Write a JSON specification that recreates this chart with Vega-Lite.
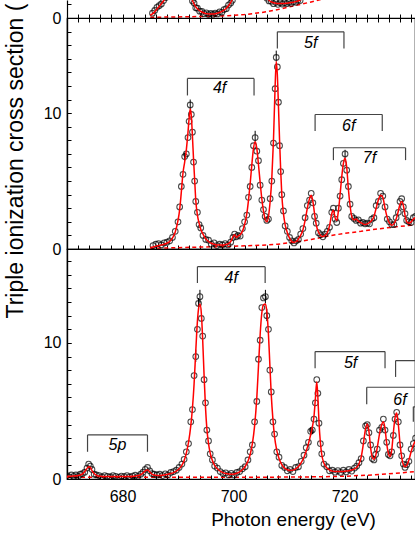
{
  "$schema": "https://vega.github.io/schema/vega-lite/v6.json",
  "autosize": {"type": "none"},
  "padding": {"left": 67, "top": 0, "right": 348, "bottom": 537},
  "spacing": 0,
  "bounds": "flush",
  "config": {
    "font": "Liberation Sans",
    "view": {"stroke": "black", "strokeWidth": 1.2},
    "axis": {"grid": false, "domainColor": "black", "domainWidth": 1.2, "tickColor": "black", "tickWidth": 1, "tickSize": -4, "labelFontSize": 16, "labelColor": "black", "labelFlush": false, "labelOverlap": false, "titleColor": "black", "titleFontWeight": "normal"}
  },
  "datasets": {
    "topBase": [
      {"e": 685, "b": 0.05}, {"e": 690, "b": 0.08}, {"e": 695, "b": 0.12}, {"e": 699, "b": 0.17}, {"e": 702, "b": 0.25}, {"e": 705, "b": 0.4}, {"e": 708, "b": 0.62}, {"e": 711, "b": 0.9}, {"e": 714, "b": 1.18}, {"e": 716, "b": 1.38}, {"e": 718, "b": 1.6}
    ],
    "top": [
      {"e": 685.0, "fit": 0.2}, {"e": 685.4, "fit": 0.3, "obs": 0.35}, {"e": 685.8, "fit": 0.45, "obs": 0.55}, {"e": 686.2, "fit": 0.65, "obs": 0.78}, {"e": 686.6, "fit": 0.85, "obs": 0.9}, {"e": 687.0, "fit": 1.05, "obs": 1.03}, {"e": 687.4, "fit": 1.25, "obs": 1.28}, {"e": 687.8, "fit": 1.55, "obs": 1.5}, {"e": 688.3, "fit": 2.2}, {"e": 689.0, "fit": 3.5}, {"e": 690.0, "fit": 5}, {"e": 691.0, "fit": 4.5}, {"e": 691.6, "fit": 3.0}, {"e": 692.0, "fit": 2.0},
      {"e": 692.3, "fit": 1.55, "obs": 1.6}, {"e": 692.6, "fit": 1.28, "obs": 1.25}, {"e": 692.9, "fit": 1.02, "obs": 1.1}, {"e": 693.2, "fit": 0.82, "obs": 0.75}, {"e": 693.5, "fit": 0.68, "obs": 0.72}, {"e": 693.9, "fit": 0.54, "obs": 0.5}, {"e": 694.3, "fit": 0.44, "obs": 0.48}, {"e": 694.7, "fit": 0.37, "obs": 0.32}, {"e": 695.1, "fit": 0.32, "obs": 0.38}, {"e": 695.5, "fit": 0.3, "obs": 0.25}, {"e": 695.9, "fit": 0.29, "obs": 0.33}, {"e": 696.3, "fit": 0.3, "obs": 0.26}, {"e": 696.7, "fit": 0.32, "obs": 0.36}, {"e": 697.1, "fit": 0.35, "obs": 0.3}, {"e": 697.5, "fit": 0.4, "obs": 0.45}, {"e": 697.9, "fit": 0.48, "obs": 0.42}, {"e": 698.3, "fit": 0.58, "obs": 0.62}, {"e": 698.7, "fit": 0.72, "obs": 0.68}, {"e": 699.1, "fit": 0.9, "obs": 0.95}, {"e": 699.5, "fit": 1.15, "obs": 1.1}, {"e": 699.8, "fit": 1.38, "obs": 1.3},
      {"e": 700.3, "fit": 1.9}, {"e": 701, "fit": 3}, {"e": 703, "fit": 5}, {"e": 705, "fit": 3}, {"e": 705.7, "fit": 1.8},
      {"e": 706.0, "fit": 1.5, "obs": 1.45}, {"e": 706.4, "fit": 1.3, "obs": 1.25}, {"e": 706.8, "fit": 1.18, "obs": 1.22}, {"e": 707.2, "fit": 1.12, "obs": 1.05}, {"e": 707.6, "fit": 1.09, "obs": 1.15}, {"e": 708.0, "fit": 1.07, "obs": 1.0}, {"e": 708.4, "fit": 1.06, "obs": 1.12}, {"e": 708.8, "fit": 1.06, "obs": 1.02}, {"e": 709.2, "fit": 1.07, "obs": 1.12}, {"e": 709.6, "fit": 1.09, "obs": 1.05}, {"e": 710.0, "fit": 1.11, "obs": 1.16}, {"e": 710.4, "fit": 1.13, "obs": 1.08}, {"e": 710.8, "fit": 1.16, "obs": 1.2}, {"e": 711.2, "fit": 1.2, "obs": 1.15}, {"e": 711.6, "fit": 1.25, "obs": 1.3}, {"e": 712.0, "fit": 1.32, "obs": 1.28}, {"e": 712.5, "fit": 1.45}, {"e": 713.0, "fit": 1.7}
    ],
    "midBase": [
      {"e": 685, "b": 0.05}, {"e": 690, "b": 0.1}, {"e": 695, "b": 0.15}, {"e": 700, "b": 0.2}, {"e": 705, "b": 0.28}, {"e": 708, "b": 0.35}, {"e": 711, "b": 0.5}, {"e": 714, "b": 0.7}, {"e": 717, "b": 0.95}, {"e": 720, "b": 1.15}, {"e": 723, "b": 1.3}, {"e": 726, "b": 1.48}, {"e": 729, "b": 1.62}, {"e": 732, "b": 1.75}, {"e": 733.2, "b": 1.8}
    ],
    "mid": [
      {"e": 685.0, "fit": 0.1}, {"e": 685.5, "fit": 0.15, "obs": 0.25}, {"e": 686.0, "fit": 0.2, "obs": 0.35}, {"e": 686.5, "fit": 0.25, "obs": 0.4}, {"e": 687.0, "fit": 0.3, "obs": 0.3}, {"e": 687.5, "fit": 0.35, "obs": 0.45}, {"e": 688.0, "fit": 0.42, "obs": 0.5}, {"e": 688.5, "fit": 0.55, "obs": 0.6}, {"e": 689.0, "fit": 0.8, "obs": 0.85}, {"e": 689.5, "fit": 1.25, "obs": 1.3}, {"e": 690.0, "fit": 2.1, "obs": 2.0}, {"e": 690.3, "fit": 2.9, "obs": 3.1}, {"e": 690.6, "fit": 4.2, "obs": 4.6}, {"e": 690.9, "fit": 5.6, "obs": 5.5}, {"e": 691.2, "fit": 6.4, "obs": 6.8}, {"e": 691.5, "fit": 7.3, "obs": 7.0}, {"e": 691.8, "fit": 8.6, "obs": 8.2}, {"e": 692.0, "fit": 9.6, "obs": 9.4}, {"e": 692.2, "fit": 10.3, "obs": 10.6}, {"e": 692.4, "fit": 9.8, "obs": 9.9}, {"e": 692.6, "fit": 8.3, "obs": 8.6}, {"e": 692.8, "fit": 6.6, "obs": 6.4}, {"e": 693.0, "fit": 5.1, "obs": 5.0}, {"e": 693.2, "fit": 3.6, "obs": 3.5}, {"e": 693.5, "fit": 2.5, "obs": 2.7}, {"e": 693.8, "fit": 1.9, "obs": 1.8}, {"e": 694.1, "fit": 1.45, "obs": 1.55}, {"e": 694.5, "fit": 1.1, "obs": 1.0}, {"e": 695.0, "fit": 0.75, "obs": 0.7}, {"e": 695.5, "fit": 0.55, "obs": 0.65}, {"e": 696.0, "fit": 0.42, "obs": 0.35}, {"e": 696.5, "fit": 0.35, "obs": 0.45}, {"e": 697.0, "fit": 0.3, "obs": 0.25}, {"e": 697.5, "fit": 0.3, "obs": 0.35}, {"e": 698.0, "fit": 0.3, "obs": 0.3}, {"e": 698.5, "fit": 0.32, "obs": 0.4}, {"e": 699.0, "fit": 0.38, "obs": 0.3}, {"e": 699.5, "fit": 0.55, "obs": 0.5}, {"e": 699.9, "fit": 0.9, "obs": 0.85}, {"e": 700.2, "fit": 1.05, "obs": 1.1}, {"e": 700.5, "fit": 0.85, "obs": 0.9}, {"e": 700.8, "fit": 0.95, "obs": 1.0}, {"e": 701.2, "fit": 1.05, "obs": 0.95}, {"e": 701.6, "fit": 1.3, "obs": 1.5}, {"e": 702.0, "fit": 1.8, "obs": 2.0}, {"e": 702.4, "fit": 2.6, "obs": 2.5}, {"e": 702.7, "fit": 3.6, "obs": 3.8}, {"e": 703.0, "fit": 4.8, "obs": 4.6}, {"e": 703.3, "fit": 6.2, "obs": 6.0}, {"e": 703.6, "fit": 7.4, "obs": 7.6}, {"e": 703.9, "fit": 7.9, "obs": 8.2}, {"e": 704.2, "fit": 7.4, "obs": 7.2}, {"e": 704.5, "fit": 6.2, "obs": 6.5}, {"e": 704.8, "fit": 4.9, "obs": 4.7}, {"e": 705.1, "fit": 3.7, "obs": 3.6}, {"e": 705.4, "fit": 2.8, "obs": 2.9}, {"e": 705.7, "fit": 2.2, "obs": 2.4}, {"e": 706.0, "fit": 2.0, "obs": 2.1}, {"e": 706.3, "fit": 2.4, "obs": 2.2}, {"e": 706.6, "fit": 3.5, "obs": 3.7}, {"e": 706.9, "fit": 5.2, "obs": 5.0}, {"e": 707.2, "fit": 8.0, "obs": 7.8}, {"e": 707.5, "fit": 12.0, "obs": 11.8}, {"e": 707.7, "fit": 13.8, "obs": 14.1}, {"e": 707.9, "fit": 12.8, "obs": 13.4}, {"e": 708.1, "fit": 10.5, "obs": 10.8}, {"e": 708.3, "fit": 8.0, "obs": 7.6}, {"e": 708.5, "fit": 5.8, "obs": 5.7}, {"e": 708.7, "fit": 4.0, "obs": 4.0}, {"e": 709.0, "fit": 2.6, "obs": 2.8}, {"e": 709.3, "fit": 1.8, "obs": 1.7}, {"e": 709.7, "fit": 1.2, "obs": 1.3}, {"e": 710.1, "fit": 0.8, "obs": 0.85}, {"e": 710.5, "fit": 0.55, "obs": 0.6}, {"e": 710.9, "fit": 0.48, "obs": 0.45}, {"e": 711.3, "fit": 0.55, "obs": 0.6}, {"e": 711.7, "fit": 0.75, "obs": 0.7}, {"e": 712.1, "fit": 1.0, "obs": 1.1}, {"e": 712.5, "fit": 1.4, "obs": 1.5}, {"e": 712.9, "fit": 2.1, "obs": 2.3}, {"e": 713.3, "fit": 3.0, "obs": 3.2}, {"e": 713.7, "fit": 3.7, "obs": 3.6}, {"e": 714.0, "fit": 3.95, "obs": 4.1}, {"e": 714.3, "fit": 3.5, "obs": 3.4}, {"e": 714.6, "fit": 2.6, "obs": 2.4}, {"e": 714.9, "fit": 1.8, "obs": 1.9}, {"e": 715.3, "fit": 1.25, "obs": 1.2}, {"e": 715.7, "fit": 1.0, "obs": 1.05}, {"e": 716.1, "fit": 0.92, "obs": 0.9}, {"e": 716.5, "fit": 1.0, "obs": 1.1}, {"e": 716.9, "fit": 1.2, "obs": 1.3}, {"e": 717.3, "fit": 1.7, "obs": 1.6}, {"e": 717.7, "fit": 2.6, "obs": 2.7}, {"e": 718.0, "fit": 2.85, "obs": 3.0}, {"e": 718.3, "fit": 2.3, "obs": 2.2}, {"e": 718.6, "fit": 2.1, "obs": 1.95}, {"e": 718.9, "fit": 2.8, "obs": 3.0}, {"e": 719.2, "fit": 4.0, "obs": 3.9}, {"e": 719.5, "fit": 5.3, "obs": 5.1}, {"e": 719.8, "fit": 6.3, "obs": 6.3}, {"e": 720.1, "fit": 6.7, "obs": 7.0}, {"e": 720.4, "fit": 6.0, "obs": 5.8}, {"e": 720.7, "fit": 4.4, "obs": 4.6}, {"e": 721.0, "fit": 3.2, "obs": 3.3}, {"e": 721.3, "fit": 2.4, "obs": 2.4}, {"e": 721.7, "fit": 2.15, "obs": 2.25}, {"e": 722.1, "fit": 2.2, "obs": 2.1}, {"e": 722.5, "fit": 2.05, "obs": 2.15}, {"e": 722.9, "fit": 1.95, "obs": 1.9}, {"e": 723.3, "fit": 1.85, "obs": 1.95}, {"e": 723.7, "fit": 1.8, "obs": 1.85}, {"e": 724.1, "fit": 1.85, "obs": 1.9}, {"e": 724.5, "fit": 1.95, "obs": 1.85}, {"e": 724.9, "fit": 2.1, "obs": 2.2}, {"e": 725.3, "fit": 2.4, "obs": 2.3}, {"e": 725.7, "fit": 3.0, "obs": 3.2}, {"e": 726.1, "fit": 3.6, "obs": 3.5}, {"e": 726.5, "fit": 3.95, "obs": 4.1}, {"e": 726.9, "fit": 3.8, "obs": 3.9}, {"e": 727.3, "fit": 3.0, "obs": 3.1}, {"e": 727.7, "fit": 2.3, "obs": 2.2}, {"e": 728.1, "fit": 1.9, "obs": 2.0}, {"e": 728.5, "fit": 1.75, "obs": 1.8}, {"e": 728.9, "fit": 1.85, "obs": 1.8}, {"e": 729.3, "fit": 2.2, "obs": 2.3}, {"e": 729.7, "fit": 2.8, "obs": 2.7}, {"e": 730.0, "fit": 3.3, "obs": 3.5}, {"e": 730.3, "fit": 3.5, "obs": 3.7}, {"e": 730.6, "fit": 3.2, "obs": 3.1}, {"e": 730.9, "fit": 2.5, "obs": 2.6}, {"e": 731.2, "fit": 2.0, "obs": 2.1}, {"e": 731.6, "fit": 1.9, "obs": 2.0}, {"e": 732.0, "fit": 2.0, "obs": 1.95}, {"e": 732.4, "fit": 2.2, "obs": 2.3}, {"e": 732.8, "fit": 2.3, "obs": 2.4}, {"e": 733.2, "fit": 2.3}
    ],
    "botBase": [
      {"e": 670, "b": 0.12}, {"e": 690, "b": 0.12}, {"e": 710, "b": 0.14}, {"e": 715, "b": 0.16}, {"e": 720, "b": 0.2}, {"e": 725, "b": 0.3}, {"e": 730, "b": 0.45}, {"e": 733.2, "b": 0.55}
    ],
    "bot": [
      {"e": 670.0, "fit": 0.2, "obs": 0.25}, {"e": 670.4, "fit": 0.2, "obs": 0.15}, {"e": 670.8, "fit": 0.21, "obs": 0.3}, {"e": 671.2, "fit": 0.22, "obs": 0.2}, {"e": 671.6, "fit": 0.23, "obs": 0.3}, {"e": 672.0, "fit": 0.25, "obs": 0.2}, {"e": 672.4, "fit": 0.29, "obs": 0.35}, {"e": 672.8, "fit": 0.38, "obs": 0.4}, {"e": 673.2, "fit": 0.55, "obs": 0.5}, {"e": 673.6, "fit": 0.78, "obs": 0.8}, {"e": 673.9, "fit": 0.9, "obs": 1.1}, {"e": 674.2, "fit": 0.85, "obs": 0.95}, {"e": 674.5, "fit": 0.62, "obs": 0.7}, {"e": 674.9, "fit": 0.4, "obs": 0.35}, {"e": 675.3, "fit": 0.27, "obs": 0.3}, {"e": 675.8, "fit": 0.21, "obs": 0.25}, {"e": 676.3, "fit": 0.19, "obs": 0.15}, {"e": 676.8, "fit": 0.18, "obs": 0.25}, {"e": 677.3, "fit": 0.18, "obs": 0.2}, {"e": 677.8, "fit": 0.18, "obs": 0.15}, {"e": 678.3, "fit": 0.18, "obs": 0.25}, {"e": 678.8, "fit": 0.18, "obs": 0.2}, {"e": 679.3, "fit": 0.18, "obs": 0.12}, {"e": 679.8, "fit": 0.18, "obs": 0.22}, {"e": 680.3, "fit": 0.18, "obs": 0.18}, {"e": 680.8, "fit": 0.18, "obs": 0.25}, {"e": 681.3, "fit": 0.19, "obs": 0.15}, {"e": 681.8, "fit": 0.2, "obs": 0.22}, {"e": 682.3, "fit": 0.21, "obs": 0.28}, {"e": 682.8, "fit": 0.25, "obs": 0.2}, {"e": 683.3, "fit": 0.32, "obs": 0.35}, {"e": 683.7, "fit": 0.45, "obs": 0.5}, {"e": 684.1, "fit": 0.6, "obs": 0.7}, {"e": 684.5, "fit": 0.66, "obs": 0.85}, {"e": 684.9, "fit": 0.52, "obs": 0.6}, {"e": 685.3, "fit": 0.36, "obs": 0.4}, {"e": 685.7, "fit": 0.29, "obs": 0.35}, {"e": 686.2, "fit": 0.26, "obs": 0.3}, {"e": 686.7, "fit": 0.26, "obs": 0.35}, {"e": 687.2, "fit": 0.28, "obs": 0.25}, {"e": 687.7, "fit": 0.31, "obs": 0.38}, {"e": 688.2, "fit": 0.35, "obs": 0.3}, {"e": 688.7, "fit": 0.4, "obs": 0.48}, {"e": 689.2, "fit": 0.47, "obs": 0.55}, {"e": 689.7, "fit": 0.58, "obs": 0.65}, {"e": 690.2, "fit": 0.75, "obs": 0.85}, {"e": 690.7, "fit": 1.0, "obs": 1.1}, {"e": 691.1, "fit": 1.35, "obs": 1.45}, {"e": 691.5, "fit": 1.9, "obs": 2.0}, {"e": 691.9, "fit": 2.7, "obs": 2.6}, {"e": 692.3, "fit": 3.9, "obs": 4.2}, {"e": 692.6, "fit": 5.2, "obs": 5.1}, {"e": 692.9, "fit": 7.0, "obs": 7.6}, {"e": 693.2, "fit": 9.4, "obs": 9.0}, {"e": 693.5, "fit": 11.6, "obs": 11.0}, {"e": 693.7, "fit": 12.5, "obs": 12.9}, {"e": 693.95, "fit": 12.85, "obs": 13.4}, {"e": 694.2, "fit": 12.2, "obs": 11.8}, {"e": 694.45, "fit": 10.2, "obs": 10.5}, {"e": 694.7, "fit": 7.6, "obs": 7.3}, {"e": 694.95, "fit": 5.3, "obs": 5.6}, {"e": 695.2, "fit": 3.7, "obs": 3.6}, {"e": 695.5, "fit": 2.6, "obs": 2.8}, {"e": 695.8, "fit": 1.9, "obs": 1.85}, {"e": 696.2, "fit": 1.35, "obs": 1.4}, {"e": 696.6, "fit": 1.0, "obs": 0.95}, {"e": 697.1, "fit": 0.75, "obs": 0.8}, {"e": 697.6, "fit": 0.58, "obs": 0.55}, {"e": 698.1, "fit": 0.47, "obs": 0.4}, {"e": 698.6, "fit": 0.4, "obs": 0.45}, {"e": 699.1, "fit": 0.36, "obs": 0.3}, {"e": 699.6, "fit": 0.35, "obs": 0.42}, {"e": 700.1, "fit": 0.37, "obs": 0.3}, {"e": 700.6, "fit": 0.42, "obs": 0.48}, {"e": 701.1, "fit": 0.52, "obs": 0.55}, {"e": 701.6, "fit": 0.68, "obs": 0.75}, {"e": 702.1, "fit": 0.92, "obs": 0.9}, {"e": 702.6, "fit": 1.3, "obs": 1.4}, {"e": 703.0, "fit": 1.8, "obs": 2.0}, {"e": 703.4, "fit": 2.6, "obs": 2.5}, {"e": 703.8, "fit": 3.9, "obs": 4.2}, {"e": 704.2, "fit": 6.0, "obs": 5.7}, {"e": 704.5, "fit": 8.3, "obs": 8.8}, {"e": 704.8, "fit": 10.6, "obs": 10.2}, {"e": 705.1, "fit": 12.2, "obs": 12.6}, {"e": 705.4, "fit": 12.8, "obs": 13.3}, {"e": 705.75, "fit": 12.85, "obs": 13.4}, {"e": 706.0, "fit": 12.3, "obs": 12.0}, {"e": 706.3, "fit": 10.6, "obs": 11.0}, {"e": 706.55, "fit": 8.4, "obs": 8.0}, {"e": 706.8, "fit": 6.2, "obs": 6.4}, {"e": 707.1, "fit": 4.4, "obs": 4.2}, {"e": 707.4, "fit": 3.1, "obs": 3.3}, {"e": 707.8, "fit": 2.1, "obs": 2.0}, {"e": 708.2, "fit": 1.5, "obs": 1.6}, {"e": 708.7, "fit": 1.05, "obs": 1.0}, {"e": 709.2, "fit": 0.8, "obs": 0.85}, {"e": 709.7, "fit": 0.68, "obs": 0.6}, {"e": 710.2, "fit": 0.62, "obs": 0.7}, {"e": 710.7, "fit": 0.65, "obs": 0.55}, {"e": 711.2, "fit": 0.75, "obs": 0.85}, {"e": 711.7, "fit": 0.92, "obs": 0.9}, {"e": 712.2, "fit": 1.2, "obs": 1.3}, {"e": 712.7, "fit": 1.6, "obs": 1.75}, {"e": 713.1, "fit": 2.05, "obs": 2.3}, {"e": 713.5, "fit": 2.6, "obs": 2.7}, {"e": 713.9, "fit": 3.25, "obs": 3.5}, {"e": 714.2, "fit": 3.8, "obs": 3.6}, {"e": 714.5, "fit": 4.6, "obs": 4.4}, {"e": 714.75, "fit": 5.9, "obs": 5.6}, {"e": 715.0, "fit": 7.15, "obs": 7.3}, {"e": 715.2, "fit": 6.0, "obs": 6.3}, {"e": 715.4, "fit": 4.2, "obs": 4.1}, {"e": 715.65, "fit": 2.7, "obs": 2.6}, {"e": 715.9, "fit": 1.8, "obs": 1.85}, {"e": 716.3, "fit": 1.15, "obs": 1.1}, {"e": 716.8, "fit": 0.82, "obs": 0.9}, {"e": 717.3, "fit": 0.66, "obs": 0.6}, {"e": 717.8, "fit": 0.58, "obs": 0.65}, {"e": 718.3, "fit": 0.55, "obs": 0.5}, {"e": 718.8, "fit": 0.55, "obs": 0.62}, {"e": 719.3, "fit": 0.55, "obs": 0.48}, {"e": 719.8, "fit": 0.56, "obs": 0.65}, {"e": 720.3, "fit": 0.58, "obs": 0.52}, {"e": 720.8, "fit": 0.61, "obs": 0.7}, {"e": 721.3, "fit": 0.66, "obs": 0.58}, {"e": 721.8, "fit": 0.74, "obs": 0.8}, {"e": 722.2, "fit": 0.86, "obs": 0.95}, {"e": 722.6, "fit": 1.1, "obs": 1.2}, {"e": 723.0, "fit": 1.6, "obs": 1.5}, {"e": 723.4, "fit": 2.6, "obs": 2.8}, {"e": 723.8, "fit": 3.7, "obs": 3.9}, {"e": 724.1, "fit": 4.05, "obs": 4.0}, {"e": 724.4, "fit": 3.5, "obs": 3.4}, {"e": 724.7, "fit": 2.3, "obs": 2.5}, {"e": 725.0, "fit": 1.6, "obs": 1.5}, {"e": 725.3, "fit": 1.45, "obs": 1.4}, {"e": 725.6, "fit": 1.7, "obs": 1.8}, {"e": 725.9, "fit": 2.3, "obs": 2.2}, {"e": 726.3, "fit": 3.3, "obs": 3.6}, {"e": 726.7, "fit": 4.0, "obs": 3.8}, {"e": 727.0, "fit": 4.2, "obs": 4.4}, {"e": 727.3, "fit": 3.7, "obs": 3.6}, {"e": 727.6, "fit": 2.6, "obs": 2.7}, {"e": 727.9, "fit": 1.9, "obs": 1.8}, {"e": 728.2, "fit": 1.65, "obs": 1.7}, {"e": 728.5, "fit": 2.1, "obs": 2.0}, {"e": 728.8, "fit": 3.4, "obs": 3.2}, {"e": 729.1, "fit": 4.5, "obs": 4.4}, {"e": 729.4, "fit": 4.85, "obs": 4.9}, {"e": 729.7, "fit": 4.0, "obs": 4.2}, {"e": 730.0, "fit": 2.6, "obs": 2.5}, {"e": 730.3, "fit": 1.6, "obs": 1.7}, {"e": 730.6, "fit": 1.05, "obs": 1.1}, {"e": 730.9, "fit": 0.9, "obs": 0.85}, {"e": 731.2, "fit": 1.0, "obs": 1.05}, {"e": 731.6, "fit": 1.4, "obs": 1.3}, {"e": 732.0, "fit": 2.0, "obs": 2.2}, {"e": 732.4, "fit": 2.5, "obs": 2.6}, {"e": 732.8, "fit": 2.8, "obs": 3.0}, {"e": 733.2, "fit": 2.9, "obs": 2.8}
    ],
    "err": [
      {"p": "mid", "e": 692.2, "lo": 10.3, "hi": 11.0}, {"p": "mid", "e": 703.9, "lo": 7.9, "hi": 8.7}, {"p": "mid", "e": 707.7, "lo": 13.8, "hi": 14.6}, {"p": "mid", "e": 691.2, "lo": 6.5, "hi": 7.1}, {"p": "mid", "e": 720.1, "lo": 6.7, "hi": 7.3},
      {"p": "bot", "e": 693.95, "lo": 12.9, "hi": 13.9}, {"p": "bot", "e": 693.2, "lo": 8.6, "hi": 9.5}, {"p": "bot", "e": 693.7, "lo": 12.4, "hi": 13.3}, {"p": "bot", "e": 705.75, "lo": 12.9, "hi": 13.9}, {"p": "bot", "e": 706.0, "lo": 11.6, "hi": 12.5}, {"p": "bot", "e": 714.2, "lo": 3.3, "hi": 3.9}, {"p": "bot", "e": 713.9, "lo": 3.2, "hi": 3.8}
    ],
    "brk": [
      {"p": "mid", "x1": 691.7, "x2": 703.7, "yt": 12.55, "yb": 11.3, "xm": 697.5, "ty": 11.45, "lab": "4f"},
      {"p": "mid", "x1": 707.9, "x2": 719.9, "yt": 15.98, "yb": 14.76, "xm": 713.9, "ty": 14.8, "lab": "5f"},
      {"p": "mid", "x1": 714.7, "x2": 726.8, "yt": 9.9, "yb": 8.68, "xm": 720.75, "ty": 8.65, "lab": "6f"},
      {"p": "mid", "x1": 718.0, "x2": 731.0, "yt": 7.45, "yb": 6.54, "xm": 724.5, "ty": 6.35, "lab": "7f"},
      {"p": "bot", "x1": 673.7, "x2": 684.5, "yt": 3.24, "yb": 2.0, "xm": 679.1, "ty": 2.15, "lab": "5p"},
      {"p": "bot", "x1": 693.5, "x2": 705.7, "yt": 15.6, "yb": 14.4, "xm": 699.6, "ty": 14.4, "lab": "4f"},
      {"p": "bot", "x1": 714.7, "x2": 727.3, "yt": 9.36, "yb": 8.14, "xm": 721.1, "ty": 8.15, "lab": "5f"},
      {"p": "bot", "x1": 724.0, "x2": 736.0, "yt": 6.74, "yb": 5.5, "xm": 730.0, "ty": 5.45, "lab": "6f"},
      {"p": "bot", "x1": 729.2, "x2": 741.2, "yt": 8.7, "yb": 7.5, "xm": 735.2, "ty": 7.5, "lab": ""},
      {"p": "bot", "x1": 732.4, "x2": 744.4, "yt": 5.3, "yb": 4.2, "xm": 738.4, "ty": 4.2, "lab": ""}
    ]
  },
  "vconcat": [
    {
      "width": 348, "height": 18,
      "view": {"stroke": null},
      "encoding": {
        "x": {"field": "e", "type": "quantitative", "scale": {"domain": [670, 732.7], "nice": false, "zero": false}, "axis": {"orient": "bottom", "values": [670,672,674,676,678,680,682,684,686,688,690,692,694,696,698,700,702,704,706,708,710,712,714,716,718,720,722,724,726,728,730,732], "labels": false, "title": null}}
      },
      "layer": [
        {"data": {"name": "topBase"}, "mark": {"type": "line", "color": "#ff0000", "strokeWidth": 1.5, "strokeDash": [4, 3], "clip": true},
         "encoding": {
           "y": {"field": "b", "type": "quantitative", "scale": {"domain": [0, 1.32], "nice": false, "zero": false}, "axis": {"values": [0, 1], "labelExpr": "datum.value === 0 ? '0' : ''", "labelOverlap": false, "labelPadding": 10, "title": null}}}},
        {"data": {"name": "top"}, "mark": {"type": "point", "shape": "circle", "filled": false, "color": "black", "size": 32, "strokeWidth": 1.1, "clip": true},
         "encoding": {
           "y": {"field": "obs", "type": "quantitative", "scale": {"domain": [0, 1.32], "nice": false, "zero": false}, "title": null}}},
        {"data": {"name": "top"}, "mark": {"type": "line", "color": "#ff0000", "strokeWidth": 1.5, "interpolate": "monotone", "clip": true},
         "encoding": {
           "y": {"field": "fit", "type": "quantitative", "scale": {"domain": [0, 1.32], "nice": false, "zero": false}, "title": null}}}
      ]
    },
    {
      "width": 348, "height": 231,
      "resolve": {"axis": {"x": "independent", "y": "independent"}},
      "layer": [
        {
          "encoding": {
            "x": {"field": "e", "type": "quantitative", "scale": {"domain": [670, 732.7], "nice": false, "zero": false}, "axis": {"orient": "bottom", "values": [670,672,674,676,678,680,682,684,686,688,690,692,694,696,698,700,702,704,706,708,710,712,714,716,718,720,722,724,726,728,730,732], "labels": false, "title": null}}
          },
          "layer": [
            {"data": {"name": "midBase"}, "mark": {"type": "line", "color": "#ff0000", "strokeWidth": 1.5, "strokeDash": [4, 3], "clip": true},
             "encoding": {
               "y": {"field": "b", "type": "quantitative", "scale": {"domain": [0, 17], "nice": false, "zero": false}, "axis": {"orient": "left", "values": [0, 10], "labelOverlap": false, "labelPadding": 10, "title": "Triple ionization cross section (", "titleFontSize": 23, "titleX": -45, "titleY": 300, "titleAngle": 270, "titleAlign": "left", "titleBaseline": "alphabetic"}}}},
            {"data": {"name": "mid"}, "mark": {"type": "point", "shape": "circle", "filled": false, "color": "black", "size": 32, "strokeWidth": 1.1, "clip": true},
             "encoding": {
               "y": {"field": "obs", "type": "quantitative", "scale": {"domain": [0, 17], "nice": false, "zero": false}}}},
            {"data": {"name": "err"}, "transform": [{"filter": "datum.p === 'mid'"}], "mark": {"type": "rule", "color": "black", "strokeWidth": 1, "clip": true},
             "encoding": {
               "y": {"field": "lo", "type": "quantitative", "scale": {"domain": [0, 17], "nice": false, "zero": false}},
               "y2": {"field": "hi"}}},
            {"data": {"name": "mid"}, "mark": {"type": "line", "color": "#ff0000", "strokeWidth": 1.5, "interpolate": "monotone", "clip": true},
             "encoding": {
               "y": {"field": "fit", "type": "quantitative", "scale": {"domain": [0, 17], "nice": false, "zero": false}}}},
            {"data": {"name": "brk"}, "transform": [{"filter": "datum.p === 'mid'"}], "mark": {"type": "rule", "color": "#444444", "strokeWidth": 1.2, "clip": true},
             "encoding": {
               "x": {"field": "x1", "type": "quantitative", "scale": {"domain": [670, 732.7], "nice": false, "zero": false}},
               "x2": {"field": "x2"},
               "y": {"field": "yt", "type": "quantitative", "scale": {"domain": [0, 17], "nice": false, "zero": false}}}},
            {"data": {"name": "brk"}, "transform": [{"filter": "datum.p === 'mid'"}], "mark": {"type": "rule", "color": "#444444", "strokeWidth": 1.2, "clip": true},
             "encoding": {
               "x": {"field": "x1", "type": "quantitative", "scale": {"domain": [670, 732.7], "nice": false, "zero": false}},
               "y": {"field": "yt", "type": "quantitative", "scale": {"domain": [0, 17], "nice": false, "zero": false}},
               "y2": {"field": "yb"}}},
            {"data": {"name": "brk"}, "transform": [{"filter": "datum.p === 'mid'"}], "mark": {"type": "rule", "color": "#444444", "strokeWidth": 1.2, "clip": true},
             "encoding": {
               "x": {"field": "x2", "type": "quantitative", "scale": {"domain": [670, 732.7], "nice": false, "zero": false}},
               "y": {"field": "yt", "type": "quantitative", "scale": {"domain": [0, 17], "nice": false, "zero": false}},
               "y2": {"field": "yb"}}},
            {"data": {"name": "brk"}, "transform": [{"filter": "datum.p === 'mid'"}], "mark": {"type": "text", "fontStyle": "italic", "fontSize": 16, "color": "black", "align": "center", "baseline": "alphabetic", "clip": true},
             "encoding": {
               "x": {"field": "xm", "type": "quantitative", "scale": {"domain": [670, 732.7], "nice": false, "zero": false}},
               "y": {"field": "ty", "type": "quantitative", "scale": {"domain": [0, 17], "nice": false, "zero": false}},
               "text": {"field": "lab"}}}
          ]
        },
        {"data": {"name": "midBase"}, "mark": {"type": "point", "opacity": 0},
         "encoding": {
           "x": {"field": "e", "type": "quantitative", "scale": {"domain": [670, 732.7], "nice": false, "zero": false}, "axis": {"orient": "top", "values": [670,672,674,676,678,680,682,684,686,688,690,692,694,696,698,700,702,704,706,708,710,712,714,716,718,720,722,724,726,728,730,732], "labels": false, "title": null}}}},
        {"data": {"name": "midBase"}, "mark": {"type": "point", "opacity": 0},
         "encoding": {
           "y": {"field": "b", "type": "quantitative", "scale": {"domain": [0, 17], "nice": false, "zero": false}, "axis": {"orient": "left", "values": [0,1,2,3,4,5,6,7,8,9,10,11,12,13,14,15,16], "labels": false, "title": null}}}}
      ]
    },
    {
      "width": 348, "height": 230,
      "resolve": {"axis": {"y": "independent"}},
      "encoding": {
        "x": {"field": "e", "type": "quantitative", "scale": {"domain": [670, 732.7], "nice": false, "zero": false}, "axis": {"orient": "bottom", "values": [670,672,674,676,678,680,682,684,686,688,690,692,694,696,698,700,702,704,706,708,710,712,714,716,718,720,722,724,726,728,730,732], "labelExpr": "datum.value % 20 === 0 ? datum.label : ''", "labelOverlap": false, "labelPadding": 13, "title": "Photon energy (eV)", "titleFontSize": 19, "titleX": 226, "titleY": 46, "titleAlign": "center", "titleBaseline": "alphabetic"}}
      },
      "layer": [
        {
          "layer": [
            {"data": {"name": "botBase"}, "mark": {"type": "line", "color": "#ff0000", "strokeWidth": 1.5, "strokeDash": [4, 3], "clip": true},
             "encoding": {
               "y": {"field": "b", "type": "quantitative", "scale": {"domain": [0, 16.9], "nice": false, "zero": false}, "axis": {"orient": "left", "values": [0, 10], "labelOverlap": false, "labelPadding": 10, "title": null}}}},
            {"data": {"name": "bot"}, "mark": {"type": "point", "shape": "circle", "filled": false, "color": "black", "size": 32, "strokeWidth": 1.1, "clip": true},
             "encoding": {
               "y": {"field": "obs", "type": "quantitative", "scale": {"domain": [0, 16.9], "nice": false, "zero": false}, "title": null}}},
            {"data": {"name": "err"}, "transform": [{"filter": "datum.p === 'bot'"}], "mark": {"type": "rule", "color": "black", "strokeWidth": 1, "clip": true},
             "encoding": {
               "y": {"field": "lo", "type": "quantitative", "scale": {"domain": [0, 16.9], "nice": false, "zero": false}, "title": null},
               "y2": {"field": "hi"}}},
            {"data": {"name": "bot"}, "mark": {"type": "line", "color": "#ff0000", "strokeWidth": 1.5, "interpolate": "monotone", "clip": true},
             "encoding": {
               "y": {"field": "fit", "type": "quantitative", "scale": {"domain": [0, 16.9], "nice": false, "zero": false}, "title": null}}},
            {"data": {"name": "brk"}, "transform": [{"filter": "datum.p === 'bot'"}], "mark": {"type": "rule", "color": "#444444", "strokeWidth": 1.2, "clip": true},
             "encoding": {
               "x": {"field": "x1", "type": "quantitative", "scale": {"domain": [670, 732.7], "nice": false, "zero": false}, "title": null},
               "x2": {"field": "x2"},
               "y": {"field": "yt", "type": "quantitative", "scale": {"domain": [0, 16.9], "nice": false, "zero": false}, "title": null}}},
            {"data": {"name": "brk"}, "transform": [{"filter": "datum.p === 'bot'"}], "mark": {"type": "rule", "color": "#444444", "strokeWidth": 1.2, "clip": true},
             "encoding": {
               "x": {"field": "x1", "type": "quantitative", "scale": {"domain": [670, 732.7], "nice": false, "zero": false}, "title": null},
               "y": {"field": "yt", "type": "quantitative", "scale": {"domain": [0, 16.9], "nice": false, "zero": false}, "title": null},
               "y2": {"field": "yb"}}},
            {"data": {"name": "brk"}, "transform": [{"filter": "datum.p === 'bot'"}], "mark": {"type": "rule", "color": "#444444", "strokeWidth": 1.2, "clip": true},
             "encoding": {
               "x": {"field": "x2", "type": "quantitative", "scale": {"domain": [670, 732.7], "nice": false, "zero": false}, "title": null},
               "y": {"field": "yt", "type": "quantitative", "scale": {"domain": [0, 16.9], "nice": false, "zero": false}, "title": null},
               "y2": {"field": "yb"}}},
            {"data": {"name": "brk"}, "transform": [{"filter": "datum.p === 'bot' && datum.lab !== ''"}], "mark": {"type": "text", "fontStyle": "italic", "fontSize": 16, "color": "black", "align": "center", "baseline": "alphabetic", "clip": true},
             "encoding": {
               "x": {"field": "xm", "type": "quantitative", "scale": {"domain": [670, 732.7], "nice": false, "zero": false}, "title": null},
               "y": {"field": "ty", "type": "quantitative", "scale": {"domain": [0, 16.9], "nice": false, "zero": false}, "title": null},
               "text": {"field": "lab"}}}
          ]
        },
        {"data": {"name": "botBase"}, "mark": {"type": "point", "opacity": 0},
         "encoding": {
           "y": {"field": "b", "type": "quantitative", "scale": {"domain": [0, 16.9], "nice": false, "zero": false}, "axis": {"orient": "left", "values": [0,1,2,3,4,5,6,7,8,9,10,11,12,13,14,15,16], "labels": false, "title": null}}}}
      ]
    }
  ]
}
